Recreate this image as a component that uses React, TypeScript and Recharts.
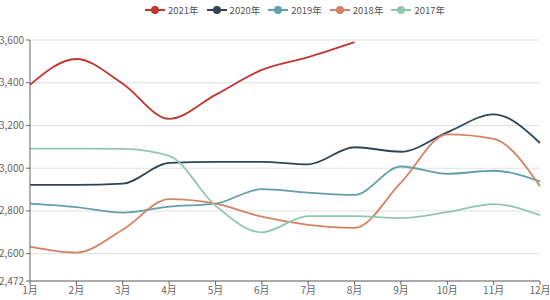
// Yearly price comparison — multi-year lines by month (recharts)

import { LineChart, Line, XAxis, YAxis, CartesianGrid } from 'recharts';

const MONTHS = ['1月', '2月', '3月', '4月', '5月', '6月', '7月', '8月', '9月', '10月', '11月', '12月'];
const Y2021 = [3390, 3511, 3395, 3231, 3343, 3460, 3520, 3590, null, null, null, null];
const Y2020 = [2922, 2922, 2928, 3025, 3030, 3030, 3018, 3098, 3077, 3168, 3252, 3118];
const Y2019 = [2834, 2818, 2792, 2820, 2834, 2902, 2886, 2875, 3008, 2974, 2988, 2938];
const Y2018 = [2633, 2605, 2712, 2855, 2834, 2773, 2735, 2721, 2932, 3158, 3137, 2915];
const Y2017 = [3092, 3092, 3090, 3058, 2825, 2700, 2776, 2776, 2766, 2794, 2832, 2780];
const Y_TICKS = [2472, 2600, 2800, 3000, 3200, 3400, 3600];

const SERIES = [
  { key: '2021年', values: Y2021, color: '#c23531' },
  { key: '2020年', values: Y2020, color: '#2f4554' },
  { key: '2019年', values: Y2019, color: '#61a0a8' },
  { key: '2018年', values: Y2018, color: '#d48265' },
  { key: '2017年', values: Y2017, color: '#91c7ae' },
];

const data = MONTHS.map((m, i) => {
  const row: Record<string, string | number | null> = { month: m };
  SERIES.forEach((s) => { row[s.key] = s.values[i]; });
  return row;
});

const FONT = '"Noto Sans CJK SC", "Noto Sans", sans-serif';

// legend sits above the plot, outside recharts' layout
function TopLegend() {
  return (
    <div
      style={{
        position: 'absolute', top: 3, left: 20, width: 550, display: 'flex', justifyContent: 'center',
        gap: 8, fontFamily: FONT, fontSize: 9.5, color: '#555', lineHeight: '14px',
      }}
    >
      {SERIES.map((s) => (
        <div key={s.key} style={{ display: 'flex', alignItems: 'center', gap: 3 }}>
          <svg width={20} height={10}>
            <line x1={0} y1={5} x2={20} y2={5} stroke={s.color} strokeWidth={2} />
            <circle cx={10} cy={5} r={4} fill={s.color} />
          </svg>
          <span>{s.key}</span>
        </div>
      ))}
    </div>
  );
}

export default function App() {
  return (
    <div style={{ position: 'absolute', left: 0, top: 0, width: 550, height: 300, background: '#fff' }}>
      <TopLegend />
      <LineChart width={550} height={300} data={data} margin={{ top: 40, right: 10, left: 0, bottom: 0 }}>
        <CartesianGrid vertical={false} stroke="#e0e0e0" />
        <XAxis
          dataKey="month"
          interval={0}
          height={19}
          tick={{ fill: '#666', fontSize: 10, fontFamily: FONT }}
          tickSize={4}
          axisLine={{ stroke: '#666' }}
          tickLine={{ stroke: '#666' }}
        />
        <YAxis
          width={30}
          domain={[2472, 3600]}
          ticks={Y_TICKS}
          allowDataOverflow
          tickFormatter={(v: number) => v.toLocaleString('en-US')}
          tick={{ fill: '#666', fontSize: 10, fontFamily: FONT }}
          tickSize={4}
          axisLine={{ stroke: '#666' }}
          tickLine={{ stroke: '#666' }}
        />
        {SERIES.map((s) => (
          <Line
            key={s.key}
            type="monotone"
            dataKey={s.key}
            stroke={s.color}
            strokeWidth={1.8}
            dot={false}
            isAnimationActive={false}
          />
        ))}
      </LineChart>
    </div>
  );
}
